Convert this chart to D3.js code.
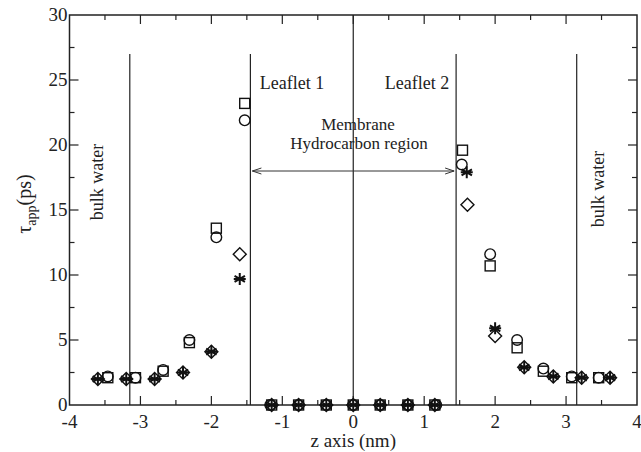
<!DOCTYPE html>
<html>
<head>
<meta charset="utf-8">
<script src="https://cdn.jsdelivr.net/npm/d3@7"></script>
<style>
  body { margin: 0; background: #fff; }
</style>
</head>
<body>
<svg class="chart" width="641" height="452"></svg>
<script>
// data (z in nm, tau in ps)
var zSquare = [-3.46, -3.07, -2.68, -2.31, -1.93, -1.53, -1.15, -0.77, -0.38, 0, 0.38, 0.77, 1.15, 1.54, 1.93, 2.31, 2.68, 3.08, 3.46];
var tauSquare = [2.1, 2.1, 2.6, 4.8, 13.6, 23.2, 0, 0, 0, 0, 0, 0, 0, 19.6, 10.7, 4.4, 2.6, 2.1, 2.1];
var zCircle = [-3.46, -3.07, -2.68, -2.31, -1.93, -1.53, -1.17, -0.77, -0.38, 0, 0.38, 0.77, 1.17, 1.53, 1.93, 2.31, 2.68, 3.08, 3.46];
var tauCircle = [2.2, 2.1, 2.7, 5.0, 12.9, 21.9, 0, 0, 0, 0, 0, 0, 0, 18.5, 11.6, 5.0, 2.8, 2.2, 2.1];
var zDiamond = [-3.6, -3.2, -2.8, -2.4, -2.0, -1.6, -1.15, -0.77, -0.38, 0, 0.38, 0.77, 1.15, 1.61, 2.0, 2.41, 2.82, 3.22, 3.62];
var tauDiamond = [2.0, 2.0, 2.0, 2.5, 4.1, 11.6, 0, 0, 0, 0, 0, 0, 0, 15.4, 5.3, 2.9, 2.2, 2.1, 2.1];
var zStar = [-3.6, -3.2, -2.8, -2.4, -2.0, -1.6, -1.15, -0.77, -0.38, 0, 0.38, 0.77, 1.15, 1.6, 2.0, 2.41, 2.82, 3.22, 3.62];
var tauStar = [2.0, 2.0, 2.0, 2.5, 4.1, 9.7, 0, 0, 0, 0, 0, 0, 0, 17.9, 5.9, 2.9, 2.2, 2.1, 2.1];

var xTicks = [-4, -3, -2, -1, 0, 1, 2, 3, 4];
var yTicks = [0, 5, 10, 15, 20, 25, 30];
var boundaries = [-3.15, -1.45, 1.45, 3.15];

var svg = d3.select("svg.chart")
  .attr("font-family", "'Liberation Serif', 'DejaVu Serif', serif");
var padL = 69.5, padR = 637, padT = 15, padB = 405;

var x = d3.scaleLinear().domain([-4, 4]).range([padL, padR]);
var y = d3.scaleLinear().domain([0, 30]).range([padB, padT]);

// frame
svg.append("rect")
  .attr("x", padL).attr("y", padT)
  .attr("width", padR - padL).attr("height", padB - padT)
  .attr("fill", "none").attr("stroke", "#222").attr("stroke-width", 1.5);

// ticks on all four sides, pointing inwards
var xMinor = d3.range(-3.5, 4, 1);
var yMinor = d3.range(2.5, 30, 5);
function tickLines(vals, len, vertical) {
  vals.forEach(function(v) {
    if (vertical) {
      svg.append("line").attr("x1", x(v)).attr("x2", x(v)).attr("y1", padB).attr("y2", padB - len).attr("stroke", "#222").attr("stroke-width", 1.2);
      svg.append("line").attr("x1", x(v)).attr("x2", x(v)).attr("y1", padT).attr("y2", padT + len).attr("stroke", "#222").attr("stroke-width", 1.2);
    } else {
      svg.append("line").attr("x1", padL).attr("x2", padL + len).attr("y1", y(v)).attr("y2", y(v)).attr("stroke", "#222").attr("stroke-width", 1.2);
      svg.append("line").attr("x1", padR).attr("x2", padR - len).attr("y1", y(v)).attr("y2", y(v)).attr("stroke", "#222").attr("stroke-width", 1.2);
    }
  });
}
tickLines(xTicks.slice(1, -1), 9, true);
tickLines(xMinor, 5, true);
tickLines(yTicks.slice(1, -1), 9, false);
tickLines(yMinor, 5, false);

// tick labels
svg.selectAll("text.xt").data(xTicks).enter().append("text")
  .attr("class", "xt")
  .attr("x", function(d) { return x(d); })
  .attr("y", 428)
  .attr("text-anchor", "middle")
  .attr("fill", "#222")
  .style("font-size", "19px")
  .text(function(d) { return d; });

svg.selectAll("text.yt").data(yTicks).enter().append("text")
  .attr("class", "yt")
  .attr("x", padL - 2)
  .attr("y", function(d) { return y(d) + 6; })
  .attr("text-anchor", "end")
  .attr("fill", "#222")
  .style("font-size", "19px")
  .text(function(d) { return d; });

// axis titles
svg.append("text")
  .attr("x", x(0)).attr("y", 447)
  .attr("text-anchor", "middle")
  .attr("fill", "#222")
  .style("font-size", "19px")
  .text("z axis (nm)");

var yl = svg.append("text")
  .attr("transform", "translate(31,204) rotate(-90)")
  .attr("text-anchor", "middle")
  .attr("fill", "#222")
  .style("font-size", "20px");
yl.append("tspan").text("\u03c4");
yl.append("tspan").attr("dy", 5).style("font-size", "14px").text("app");
yl.append("tspan").attr("dy", -5).text("(ps)");

// region lines
svg.selectAll("line.bound").data(boundaries).enter().append("line")
  .attr("class", "bound")
  .attr("x1", function(d) { return x(d); }).attr("x2", function(d) { return x(d); })
  .attr("y1", y(27)).attr("y2", padB)
  .attr("stroke", "#222").attr("stroke-width", 1.2);
svg.append("line")
  .attr("x1", x(0)).attr("x2", x(0)).attr("y1", padT).attr("y2", padB)
  .attr("stroke", "#222").attr("stroke-width", 1.2);

// double arrow across the hydrocarbon region
var ay = y(18);
svg.append("line")
  .attr("x1", x(-1.45) + 2).attr("x2", x(1.45) - 2).attr("y1", ay).attr("y2", ay)
  .attr("stroke", "#333").attr("stroke-width", 1);
svg.append("path")
  .attr("d", "M" + (x(-1.45) + 2) + "," + ay + " l9,-3 M" + (x(-1.45) + 2) + "," + ay + " l9,3" +
             " M" + (x(1.45) - 2) + "," + ay + " l-9,-3 M" + (x(1.45) - 2) + "," + ay + " l-9,3")
  .attr("fill", "none").attr("stroke", "#333").attr("stroke-width", 1);

// annotations
function label(tx, ty, s, size, rot) {
  var t = svg.append("text").attr("text-anchor", "middle").attr("fill", "#222")
    .style("font-size", size + "px").text(s);
  if (rot) t.attr("transform", "translate(" + tx + "," + ty + ") rotate(-90)");
  else t.attr("x", tx).attr("y", ty);
  return t;
}
label(292, 89, "Leaflet 1", 18);
label(417, 89, "Leaflet 2", 18);
label(358, 130, "Membrane", 17);
label(359, 149, "Hydrocarbon region", 17);
label(103, 182, "bulk water", 18, true);
label(604, 189, "bulk water", 18, true);

// markers
function pts(xs, ys) { return xs.map(function(d, i) { return [d, ys[i]]; }); }

svg.selectAll("rect.sq").data(pts(zSquare, tauSquare)).enter().append("rect")
  .attr("class", "sq")
  .attr("x", function(d) { return x(d[0]) - 5; })
  .attr("y", function(d) { return y(d[1]) - 5; })
  .attr("width", 10).attr("height", 10)
  .attr("fill", "none").attr("stroke", "#111").attr("stroke-width", 1.4);

svg.selectAll("circle.ci").data(pts(zCircle, tauCircle)).enter().append("circle")
  .attr("class", "ci")
  .attr("cx", function(d) { return x(d[0]); })
  .attr("cy", function(d) { return y(d[1]); })
  .attr("r", 5.3)
  .attr("fill", "none").attr("stroke", "#111").attr("stroke-width", 1.4);

svg.selectAll("path.di").data(pts(zDiamond, tauDiamond)).enter().append("path")
  .attr("class", "di")
  .attr("transform", function(d) { return "translate(" + x(d[0]) + "," + y(d[1]) + ")"; })
  .attr("d", "M0,-6.5 L6.5,0 L0,6.5 L-6.5,0 Z")
  .attr("fill", "none").attr("stroke", "#111").attr("stroke-width", 1.4);

svg.selectAll("path.st").data(pts(zStar, tauStar)).enter().append("path")
  .attr("class", "st")
  .attr("transform", function(d) { return "translate(" + x(d[0]) + "," + y(d[1]) + ")"; })
  .attr("d", "M0,-6 L0,6 M-5.2,-3 L5.2,3 M-5.2,3 L5.2,-3 M-6,0 L6,0")
  .attr("fill", "none").attr("stroke", "#111").attr("stroke-width", 2);
</script>
</body>
</html>
